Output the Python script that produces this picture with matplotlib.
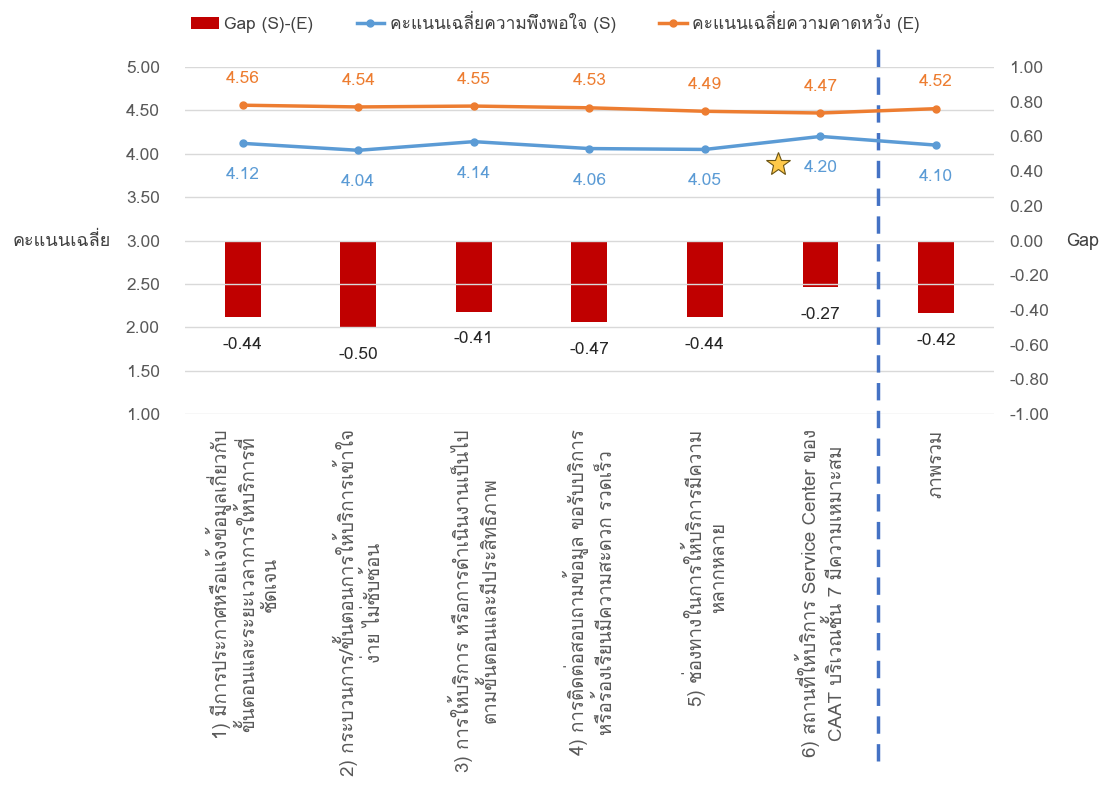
import matplotlib
matplotlib.use('Agg')
import matplotlib.pyplot as plt
from matplotlib import font_manager
from matplotlib.ft2font import FT2Font
import numpy as np

# pick an installed font that has Thai glyphs
thai_font = None
for f in font_manager.fontManager.ttflist:
    try:
        if 0x0E01 in FT2Font(f.fname).get_charmap():
            thai_font = f.name
            break
    except Exception:
        pass
families = [thai_font, 'DejaVu Sans'] if thai_font else ['DejaVu Sans']
plt.rcParams['font.family'] = families

# data
categories = [
    "1) มีการประกาศหรือแจ้งข้อมูลเกี่ยวกับ\nขั้นตอนและระยะเวลาการให้บริการที่\nชัดเจน",
    "2) กระบวนการ/ขั้นตอนการให้บริการเข้าใจ\nง่าย ไม่ซับซ้อน",
    "3) การให้บริการ หรือการดำเนินงานเป็นไป\nตามขั้นตอนและมีประสิทธิภาพ",
    "4) การติดต่อสอบถามข้อมูล ขอรับบริการ\nหรือร้องเรียนมีความสะดวก รวดเร็ว",
    "5) ช่องทางในการให้บริการมีความ\nหลากหลาย",
    "6) สถานที่ให้บริการ Service Center ของ\nCAAT บริเวณชั้น 7 มีความเหมาะสม",
    "ภาพรวม",
]
score_s = [4.12, 4.04, 4.14, 4.06, 4.05, 4.20, 4.10]
score_e = [4.56, 4.54, 4.55, 4.53, 4.49, 4.47, 4.52]
gap = [-0.44, -0.50, -0.41, -0.47, -0.44, -0.27, -0.42]
left_ticks = [1.00, 1.50, 2.00, 2.50, 3.00, 3.50, 4.00, 4.50, 5.00]
right_ticks = [-1.00, -0.80, -0.60, -0.40, -0.20, 0.00, 0.20, 0.40, 0.60, 0.80, 1.00]

c_bar = '#C00000'
c_s = '#5B9BD5'
c_e = '#ED7D31'
c_txt = '#595959'
fs = 12.5

x = np.arange(len(categories))

fig = plt.figure(figsize=(11.11, 7.85), dpi=100)
ax = fig.add_axes([0.1665, 0.4726, 0.728, 0.442])
ax2 = ax.twinx()

# gap bars on the right axis
ax2.bar(x, gap, width=0.31, color=c_bar, label='Gap (S)-(E)', zorder=2)
ax2.set_ylim(-1, 1)
ax2.set_yticks(right_ticks)
ax2.set_yticklabels(['%.2f' % v for v in right_ticks])
for xi, g in zip(x, gap):
    ax2.annotate('%.2f' % g, (xi, g), xytext=(0, -20), textcoords='offset points',
                 ha='center', va='center', fontsize=fs, color='#262626')

# lines on the left axis
ax.plot(x, score_s, color=c_s, lw=2.5, marker='o', ms=5, label='คะแนนเฉลี่ยความพึงพอใจ (S)', zorder=3)
ax.plot(x, score_e, color=c_e, lw=2.5, marker='o', ms=5, label='คะแนนเฉลี่ยความคาดหวัง (E)', zorder=3)
for xi, v in zip(x, score_s):
    ax.annotate('%.2f' % v, (xi, v), xytext=(0, -23), textcoords='offset points',
                ha='center', va='center', fontsize=fs, color=c_s)
for xi, v in zip(x, score_e):
    ax.annotate('%.2f' % v, (xi, v), xytext=(0, 19), textcoords='offset points',
                ha='center', va='center', fontsize=fs, color=c_e)

ax.set_ylim(1, 5)
ax.set_xlim(-0.5, len(categories) - 0.5)
ax.set_yticks(left_ticks)
ax.set_yticklabels(['%.2f' % v for v in left_ticks])
ax.grid(axis='y', color='#D9D9D9', lw=1)
ax.set_axisbelow(True)
ax.set_zorder(ax2.get_zorder() + 1)
ax.patch.set_visible(False)

ax.set_xticks(x)
ax.set_xticklabels(categories, rotation=90, ha='center', va='top', multialignment='center',
                   linespacing=1.3)

for a in (ax, ax2):
    for sp in a.spines.values():
        sp.set_visible(False)
ax.tick_params(axis='both', length=0, labelsize=fs, labelcolor=c_txt)
ax.tick_params(axis='x', labelsize=13.5, pad=11)
ax.tick_params(axis='y', pad=18)
ax2.tick_params(axis='y', length=0, labelsize=fs, labelcolor=c_txt, pad=11)

ax.set_ylabel('คะแนนเฉลี่ย', rotation=0, fontsize=13, color='#404040', ha='center', va='center')
ax.yaxis.set_label_coords(-0.152, 0.5)
ax2.set_ylabel('Gap', rotation=0, fontsize=13, color='#404040', ha='center', va='center')
ax2.yaxis.set_label_coords(1.11, 0.5)

# separator before overall column
ax.axvline(5.5, ymin=-1.0, ymax=1.07, color='#4472C4', lw=2.5, ls=(0, (5, 3)),
           clip_on=False, zorder=1)

# star marker
ax.plot([4.63], [3.88], marker='*', ms=18, color='#FFC94A', mec='#6B5413', mew=0.8,
        zorder=4, clip_on=False)

# legend
h1, l1 = ax2.get_legend_handles_labels()
h2, l2 = ax.get_legend_handles_labels()
fig.legend(h1 + h2, l1 + l2, loc='center', bbox_to_anchor=(0.5, 0.972), ncol=3,
           frameon=False, fontsize=fs, handlelength=1.6, columnspacing=2.5,
           handletextpad=0.3, labelcolor='#404040')

fig.savefig('out.png', dpi=100)
